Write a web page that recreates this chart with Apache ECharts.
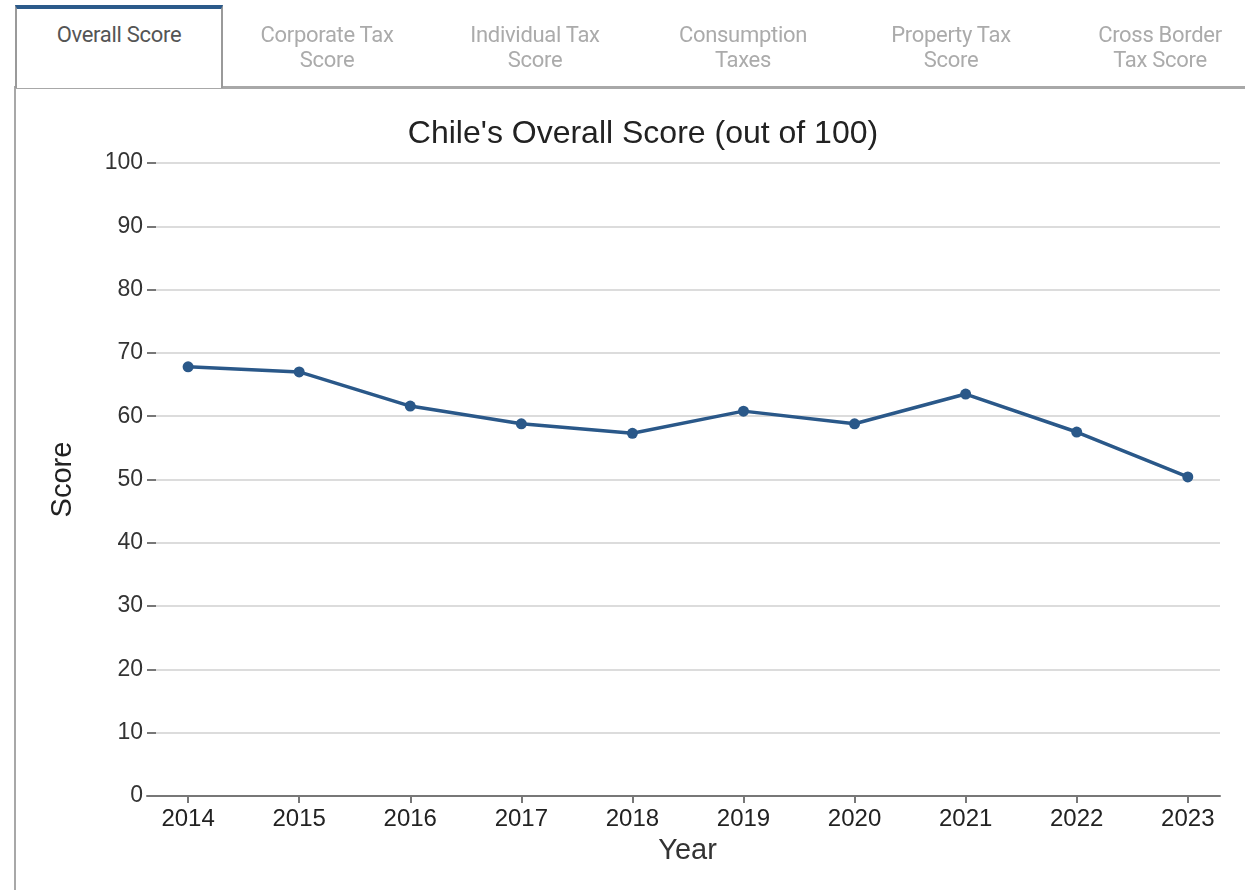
<!DOCTYPE html>
<html>
<head>
<meta charset="utf-8">
<script src="https://cdn.jsdelivr.net/npm/echarts@6/dist/echarts.min.js"></script>
<style>
  html, body { margin: 0; padding: 0; background: #fff; }
  body { width: 1245px; height: 890px; position: relative; overflow: hidden; }
  .tabs { position: absolute; left: 0; top: 0; width: 1245px; height: 90px; }
  .tab {
    position: absolute; top: 5px; width: 208px; height: 83px;
    font-family: Roboto, sans-serif;
    font-size: 22px; line-height: 25px; text-align: center; color: #ababab;
    box-sizing: border-box; padding-top: 17px; letter-spacing: -0.3px;
  }
  .tab.active {
    color: #555; border-top: 4px solid #2b5a8a;
    border-left: 2px solid #9a9a9a; border-right: 2px solid #9a9a9a;
    background: #fff; padding-top: 13px; z-index: 2;
  }
  .rule { position: absolute; left: 14px; top: 86px; width: 1231px; height: 3px; background: #a8a8a8; }
  .side { position: absolute; left: 14px; top: 86px; width: 2px; height: 804px; background: #a8a8a8; }
  #chart { position: absolute; left: 0; top: 0; width: 1245px; height: 890px; }
</style>
</head>
<body>
<div id="chart"></div>
<div class="tabs">
  <div class="rule"></div>
  <div class="side"></div>
  <div class="tab active" style="left:15px">Overall Score</div>
  <div class="tab" style="left:223px">Corporate Tax<br>Score</div>
  <div class="tab" style="left:431px">Individual Tax<br>Score</div>
  <div class="tab" style="left:639px">Consumption<br>Taxes</div>
  <div class="tab" style="left:847px">Property Tax<br>Score</div>
  <div class="tab" style="left:1056px">Cross Border<br>Tax Score</div>
</div>
<script>
const years = [2014, 2015, 2016, 2017, 2018, 2019, 2020, 2021, 2022, 2023]
const scores = [67.8, 67.0, 61.6, 58.8, 57.3, 60.8, 58.8, 63.5, 57.5, 50.4]

const font = '"Liberation Sans", Arial, sans-serif'
const chart = echarts.init(document.getElementById('chart'))

chart.setOption({
  animation: false,
  title: {
    text: "Chile's Overall Score (out of 100)",
    left: 638,
    top: 113,
    textAlign: 'center',
    textStyle: { fontFamily: font, fontSize: 32, fontWeight: 'normal', color: '#222' }
  },
  grid: { left: 147, right: 25, top: 163, bottom: 94, containLabel: false },
  xAxis: {
    type: 'value',
    min: 2013.63,
    max: 2023.29,
    name: 'Year',
    nameLocation: 'middle',
    nameGap: 40,
    nameTextStyle: { fontFamily: font, fontSize: 29, color: '#333', padding: [0, 0, 0, 8] },
    splitLine: { show: false },
    axisLine: { show: true, lineStyle: { color: '#777', width: 2 } },
    axisTick: { show: true, length: 7, customValues: years, lineStyle: { color: '#777', width: 2 } },
    axisLabel: {
      customValues: years,
      margin: 11,
      fontFamily: font,
      fontSize: 24,
      color: '#222',
      formatter: v => String(v)
    }
  },
  yAxis: {
    type: 'value',
    min: 0,
    max: 100,
    interval: 10,
    name: 'Score',
    nameLocation: 'middle',
    nameGap: 70,
    nameTextStyle: { fontFamily: font, fontSize: 29, color: '#222' },
    axisLine: { show: false },
    axisTick: { show: true, inside: true, length: 9, lineStyle: { color: '#777', width: 2 } },
    axisLabel: { margin: 4, fontFamily: font, fontSize: 23, color: '#333' },
    splitLine: { lineStyle: { color: '#dcdcdc', width: 2 } }
  },
  series: [
    {
      type: 'line',
      data: years.map((y, i) => [y, scores[i]]),
      symbol: 'circle',
      symbolSize: 11,
      itemStyle: { color: '#2a5889' },
      lineStyle: { color: '#2a5889', width: 3.5 }
    }
  ]
})
</script>
</body>
</html>
